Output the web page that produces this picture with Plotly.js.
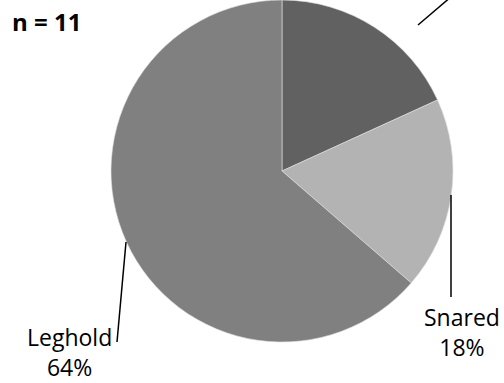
<!DOCTYPE html>
<html><head><meta charset="utf-8">
<script src="https://cdn.plot.ly/plotly-3.0.1.min.js"></script>
<style>html,body{margin:0;padding:0;background:#fff}</style>
</head><body>
<div id="chart" style="width:504px;height:383px"></div>
<script>
const categories = ["", "Snared", "Leghold"];
const counts = [2, 2, 7];
const sliceColors = ["#616161", "#b3b3b3", "#808080"];
const sampleLabel = "n = 11";

const W = 504, H = 383;
const px = x => x / W;
const py = y => 1 - y / H;

const total = counts.reduce((a, b) => a + b, 0);
const pct = v => Math.round(100 * v / total) + "%";

const font = "'Open Sans', sans-serif";

const data = [{
  type: "pie",
  values: counts,
  labels: categories.map((c, i) => c || "slice" + i),
  sort: false,
  direction: "clockwise",
  rotation: 0,
  textinfo: "none",
  hoverinfo: "none",
  marker: {colors: sliceColors, line: {color: "#e0e0e0", width: 0.6}},
  domain: {x: [px(110), px(454)], y: [py(342), py(0)]},
  showlegend: false
}];

const layout = {
  width: W, height: H,
  margin: {l: 0, r: 0, t: 0, b: 0},
  paper_bgcolor: "#ffffff",
  showlegend: false,
  annotations: [
    {text: "<b>" + sampleLabel + "</b>", x: px(10), y: py(21), xref: "paper", yref: "paper",
     xanchor: "left", yanchor: "middle", showarrow: false, font: {family: font, size: 24, color: "#000"}},
    {text: categories[1] + "<br>" + pct(counts[1]), x: px(462), y: py(332), xref: "paper", yref: "paper",
     xanchor: "center", yanchor: "middle", showarrow: false, align: "center",
     font: {family: font, size: 23, color: "#000"}},
    {text: categories[2] + "<br>" + pct(counts[2]), x: px(69), y: py(352), xref: "paper", yref: "paper",
     xanchor: "center", yanchor: "middle", showarrow: false, align: "center",
     font: {family: font, size: 23, color: "#000"}}
  ],
  shapes: [
    {type: "line", xref: "paper", yref: "paper", x0: px(418), y0: py(25), x1: px(452), y1: py(-4), line: {color: "#000", width: 1.5}},
    {type: "line", xref: "paper", yref: "paper", x0: px(451), y0: py(195), x1: px(451), y1: py(297), line: {color: "#000", width: 1.5}},
    {type: "line", xref: "paper", yref: "paper", x0: px(126), y0: py(242), x1: px(117), y1: py(342), line: {color: "#000", width: 1.5}}
  ]
};

Plotly.newPlot("chart", data, layout, {staticPlot: true, displayModeBar: false});
</script>
</body></html>
